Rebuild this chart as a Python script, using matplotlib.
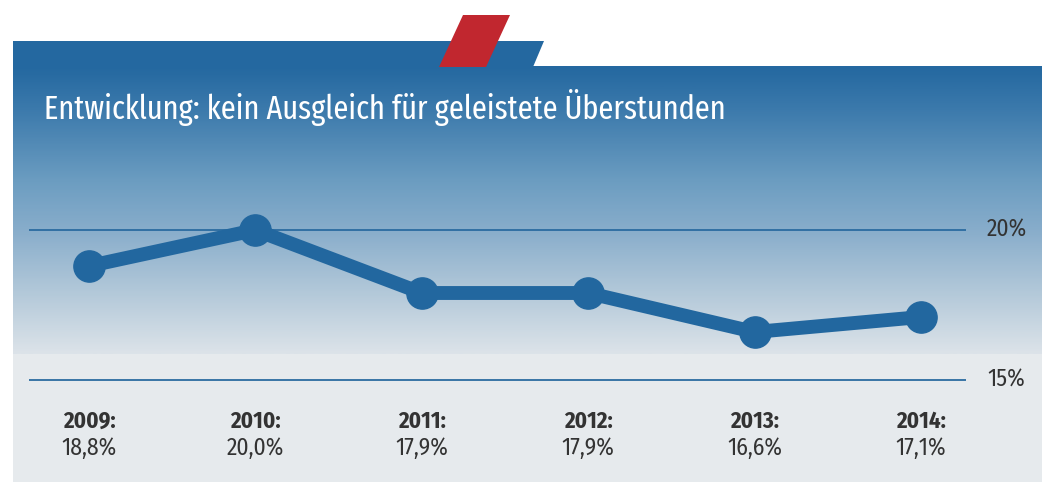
import numpy as np
import matplotlib
matplotlib.use("Agg")
import matplotlib.pyplot as plt
from matplotlib import font_manager as fm
from matplotlib.patches import Polygon, Rectangle
from matplotlib.colors import LinearSegmentedColormap

# ---- data ----
years = ["2009", "2010", "2011", "2012", "2013", "2014"]
values = [18.8, 20.0, 17.9, 17.9, 16.6, 17.1]
value_labels = ["18,8%", "20,0%", "17,9%", "17,9%", "16,6%", "17,1%"]
grid_values = [15, 20]
grid_labels = ["15%", "20%"]
title = "Entwicklung: kein Ausgleich für geleistete Überstunden"

W, H = 1046, 484
installed = {f.name for f in fm.fontManager.ttflist}
pref = ["Fira Sans Condensed", "Open Sans Condensed", "Roboto Condensed", "PT Sans Narrow",
        "Asap Condensed", "Barlow Semi Condensed", "Archivo Narrow", "Liberation Sans"]
main = next((p for p in pref if p in installed), "DejaVu Sans")
tpref = ["Fira Sans Extra Condensed", "Barlow Condensed", "Fira Sans Condensed"] + pref
tmain = next((p for p in tpref if p in installed), "DejaVu Sans")
FONT = [main, "DejaVu Sans"]
TFONT = [tmain, "DejaVu Sans"]
BLUE = "#22679F"
TXT = "#333333"

fig = plt.figure(figsize=(W / 100, H / 100), dpi=100)
fig.patch.set_facecolor("white")

bg = fig.add_axes([0, 0, 1, 1])
bg.axis("off")

bg.add_patch(Rectangle((13, 66), 1042 - 13, 482 - 66, facecolor="#E6EAED", edgecolor="none", zorder=0))
cmap = LinearSegmentedColormap.from_list(
    "grad",
    [(0.0, "#2468A0"), (0.15, "#3C7AAC"), (0.40, "#6C9DC1"), (0.57, "#88ADCB"),
     (0.80, "#B5CADA"), (1.0, "#DCE3E9")])
grad = np.linspace(0, 1, 300).reshape(-1, 1)
bg.imshow(grad, cmap=cmap, aspect="auto", extent=[13, 1042, 354, 66], zorder=1, interpolation="bilinear")
bg.set_xlim(0, W)
bg.set_ylim(H, 0)

bg.add_patch(Polygon([(13, 41), (544, 41), (533, 67), (13, 67)], closed=True,
                     facecolor="#2468A0", edgecolor="none", zorder=2))
bg.add_patch(Polygon([(463, 15), (510, 15), (486, 67), (439, 67)], closed=True,
                     facecolor="#C1272F", edgecolor="none", zorder=3))

t = bg.text(44, 107, title, color="white", fontsize=23, family=TFONT, fontweight="normal",
            ha="left", va="center", zorder=4)
r = fig.canvas.get_renderer()
wpx = t.get_window_extent(renderer=r).width
scale = min(1.3, max(0.8, 682.0 / wpx))
t.set_fontsize(23 * scale)

px_left, px_right = 29, 966
py_top, py_bot = 180, 400
ax = fig.add_axes([px_left / W, 1 - py_bot / H, (px_right - px_left) / W, (py_bot - py_top) / H])
ax.patch.set_alpha(0)
x0, dx = 89, 166.4
ax.set_xlim((px_left - x0) / dx, (px_right - x0) / dx)
ax.set_ylim(20 - (py_bot - 230) / 30, 20 - (py_top - 230) / 30)
ax.axis("off")

for g, gl in zip(grid_values, grid_labels):
    ax.axhline(g, color="#2A6BA0", lw=1.3, zorder=2)
    ax.text(1.0225, g, gl, transform=ax.get_yaxis_transform(), ha="left", va="center",
            fontsize=17, color=TXT, family=FONT)

xs = np.arange(len(values))
ax.plot(xs, values, color=BLUE, lw=10, solid_capstyle="round", solid_joinstyle="round",
        marker="o", markersize=22.5, zorder=5)

y_year = 20 - (421 - 230) / 30
y_val = 20 - (448 - 230) / 30
for x, yr, vl in zip(xs, years, value_labels):
    ax.text(x, y_year, yr + ":", ha="center", va="center", fontsize=16.5,
            fontweight="bold", color=TXT, family=FONT, clip_on=False)
    ax.text(x, y_val, vl, ha="center", va="center", fontsize=17,
            color=TXT, family=FONT, clip_on=False)

fig.savefig("out.png", dpi=100)
